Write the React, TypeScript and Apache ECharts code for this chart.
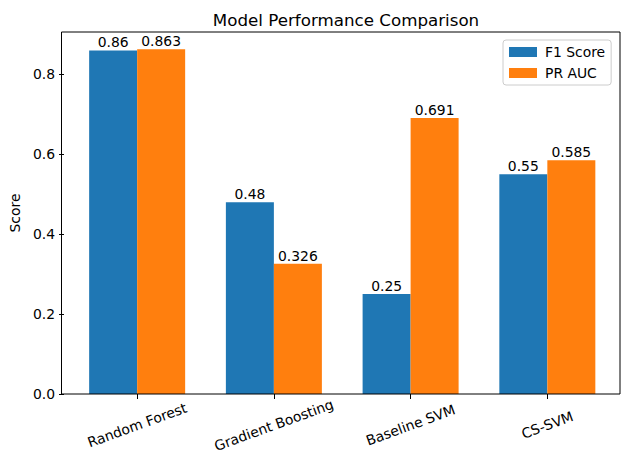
import React, { useEffect, useRef } from "react";
import * as echarts from "echarts";

const categories = ["Random Forest", "Gradient Boosting", "Baseline SVM", "CS-SVM"];
const f1Scores = [0.86, 0.48, 0.25, 0.55];
const prAuc = [0.863, 0.326, 0.691, 0.585];
const yTicks = [0, 0.2, 0.4, 0.6, 0.8];
const seriesNames = ["F1 Score", "PR AUC"];

const FONT = "DejaVu Sans";
// vertical shift (px) of each rotated label, mimicking matplotlib top-aligned rotated labels
const labelShift = [7, 11, 4, -1];

export default function App() {
  const ref = useRef<HTMLDivElement>(null);
  useEffect(() => {
    if (!ref.current) return;
    const chart = echarts.init(ref.current, null, { renderer: "svg" });
    const label = {
      show: true,
      position: "top",
      distance: 1,
      color: "#000",
      fontFamily: FONT,
      fontSize: 13.9,
      formatter: (p: any) => String(p.value),
    };
    chart.setOption({
      animation: false,
      backgroundColor: "#fff",
      textStyle: { fontFamily: FONT },
      title: {
        text: "Model Performance Comparison",
        left: 341,
        textAlign: "center",
        top: 6,
        textStyle: { fontFamily: FONT, fontSize: 16.7, fontWeight: "normal", color: "#000" },
      },
      legend: {
        orient: "vertical",
        left: 503,
        top: 40,
        padding: [5, 6, 5, 6],
        itemWidth: 28,
        itemHeight: 10,
        itemGap: 7,
        icon: "rect",
        borderColor: "#cccccc",
        borderWidth: 1,
        borderRadius: 3,
        backgroundColor: "rgba(255,255,255,0.8)",
        textStyle: { fontFamily: FONT, fontSize: 13.9, color: "#000", lineHeight: 14, padding: [0, 0, 0, 3] },
        data: seriesNames,
      },
      grid: { left: 66.3, right: 14.3, top: 32, bottom: 76 },
      xAxis: {
        type: "category",
        data: categories.map((c, i) => ({
          value: c,
          textStyle: {
            align: "center",
            verticalAlign: "middle",
            color: "#000",
            fontFamily: FONT,
            fontSize: 13.9,
            padding: labelShift[i] >= 0 ? [labelShift[i] * 2, 0, 0, 0] : [0, 0, -labelShift[i] * 2, 0],
          },
        })),
        axisLine: { show: false },
        axisTick: { show: true, alignWithLabel: true, length: 5, lineStyle: { color: "#000" } },
        axisLabel: {
          rotate: 20,
          align: "center",
          verticalAlign: "middle",
          margin: 31,
          color: "#000",
          fontFamily: FONT,
          fontSize: 13.9,
        },
      },
      yAxis: {
        type: "value",
        min: 0,
        max: 0.906,
        interval: 0.2,
        offset: 4.8,
        name: "Score",
        nameLocation: "middle",
        nameGap: 38,
        nameTextStyle: { fontFamily: FONT, fontSize: 13.9, color: "#000" },
        splitLine: { show: false },
        axisLine: { show: false },
        axisTick: { show: true, length: 5, lineStyle: { color: "#000" }, customValues: yTicks },
        axisLabel: {
          color: "#000",
          fontFamily: FONT,
          fontSize: 13.9,
          margin: 9,
          customValues: yTicks,
          formatter: (v: number) => v.toFixed(1),
        },
      },
      graphic: [
        {
          type: "rect",
          z: 100,
          silent: true,
          shape: { x: 61.5, y: 32, width: 558.5, height: 362 },
          style: { fill: "none", stroke: "#000", lineWidth: 1 },
        },
      ],
      series: [
        {
          name: seriesNames[0],
          type: "bar",
          data: f1Scores,
          barWidth: 48,
          barGap: "0%",
          itemStyle: { color: "#1f77b4" },
          label,
        },
        {
          name: seriesNames[1],
          type: "bar",
          data: prAuc,
          barWidth: 48,
          barGap: "0%",
          itemStyle: { color: "#ff7f0e" },
          label,
        },
      ],
    });
    return () => chart.dispose();
  }, []);
  return (
    <div
      ref={ref}
      style={{ position: "fixed", left: 0, top: 0, width: 630, height: 470 }}
    />
  );
}
